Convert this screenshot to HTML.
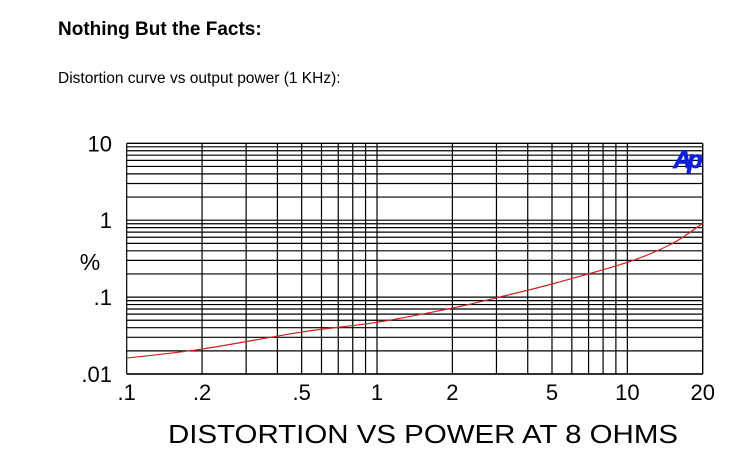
<!DOCTYPE html>
<html><head><meta charset="utf-8"><style>
body{margin:0;background:#fff;width:746px;height:459px;overflow:hidden;font-family:"Liberation Sans",sans-serif}
</style></head><body>
<svg width="746" height="459" xmlns="http://www.w3.org/2000/svg" font-family="Liberation Sans, sans-serif">
<text x="58" y="35" font-size="19" font-weight="bold">Nothing But the Facts:</text>
<text x="58" y="83" font-size="15.5">Distortion curve vs output power (1 KHz):</text>
<g id="grid"></g>
<g id="ticks"></g>
<text x="90" y="270" font-size="23" text-anchor="middle">%</text>
<text x="168" y="443" font-size="26" textLength="510" lengthAdjust="spacingAndGlyphs">DISTORTION VS POWER AT 8 OHMS</text>
<text x="686" y="168" font-size="25" font-weight="bold" font-style="italic" fill="#1020e0" stroke="#1020e0" stroke-width="0.8" text-anchor="middle" letter-spacing="-4">Ap</text>
<path id="curve" fill="none" stroke="#d02020" stroke-width="1.2"/>
</svg>
<script>
const xPower=[0.1,0.2,0.5,1,2,3,5,10,15,20];
const yDist=[0.0161,0.0211,0.0351,0.047,0.072,0.098,0.148,0.283,0.49,0.91];
const xTickVals=[0.1,0.2,0.5,1,2,5,10,20];
const xTickLabels=[".1",".2",".5","1","2","5","10","20"];
const yTickVals=[10,1,0.1,0.01];
const yTickLabels=["10","1",".1",".01"];
const L=126.7,R=702.7,T=143.3,B=374;
const sx=v=>L+(Math.log10(v)-Math.log10(0.1))/Math.log10(200)*(R-L);
const sy=v=>B-(Math.log10(v)+2)/3*(B-T);
const NS="http://www.w3.org/2000/svg";
const g=document.getElementById('grid'),tk=document.getElementById('ticks');
function line(x1,y1,x2,y2,w){const l=document.createElementNS(NS,'line');
l.setAttribute('x1',x1);l.setAttribute('y1',y1);l.setAttribute('x2',x2);l.setAttribute('y2',y2);
l.setAttribute('stroke','#000');l.setAttribute('stroke-width',w||1.2);


g.appendChild(l);}
for(let d of [0.01,0.1,1]){for(let m=1;m<10;m++){const y=sy(d*m);line(L,y,R,y,1.2);}}
line(L,T,R,T,1.4);
for(let d of [0.1,1]){for(let m=1;m<10;m++){const x=sx(d*m);line(x,T,x,B,1.2);}}
line(sx(10),T,sx(10),B,1.2);line(R,T,R,B,1.4);line(L,B,R,B,1.4);
xTickVals.forEach((v,i)=>{const t=document.createElementNS(NS,'text');
t.setAttribute('x',sx(v));t.setAttribute('y',400);t.setAttribute('font-size','22');t.setAttribute('text-anchor','middle');
t.textContent=xTickLabels[i];


tk.appendChild(t);});
yTickVals.forEach((v,i)=>{const t=document.createElementNS(NS,'text');
t.setAttribute('x',112);t.setAttribute('y',sy(v)+8);t.setAttribute('font-size','22');t.setAttribute('text-anchor','end');
t.textContent=yTickLabels[i];


tk.appendChild(t);});
const pts=xPower.map((v,i)=>[sx(v),sy(yDist[i])]);
let d='M'+pts[0][0]+','+pts[0][1];
for(let i=0;i<pts.length-1;i++){const p0=pts[i-1]||pts[i],p1=pts[i],p2=pts[i+1],p3=pts[i+2]||p2;
d+=' C'+(p1[0]+(p2[0]-p0[0])/6)+','+(p1[1]+(p2[1]-p0[1])/6)+' '+(p2[0]-(p3[0]-p1[0])/6)+','+(p2[1]-(p3[1]-p1[1])/6)+' '+p2[0]+','+p2[1];}
document.getElementById('curve').setAttribute('d',d);
</script>
</body></html>
